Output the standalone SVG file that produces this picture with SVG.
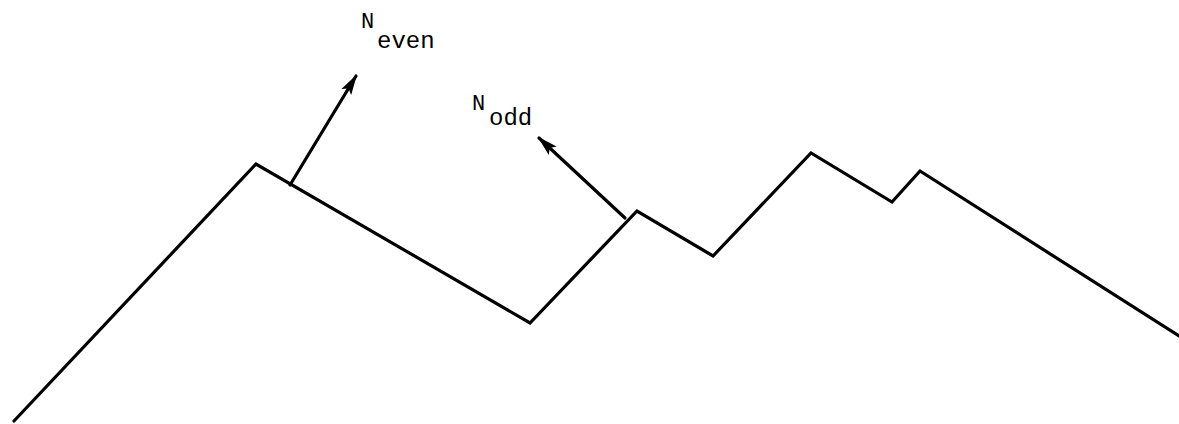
<svg xmlns="http://www.w3.org/2000/svg" width="1179" height="424" viewBox="0 0 1179 424">
<style>
.ln{fill:none;stroke:#000;stroke-width:3.2;stroke-linejoin:miter;stroke-linecap:round}
.t{font-family:"Liberation Mono","Courier New",monospace;fill:#000}
.sm{font-size:22px}
.lg{font-size:24px}
</style>
<defs>
<marker id="ah" viewBox="0 0 20 12" refX="18" refY="6" markerWidth="6.5" markerHeight="3.9" orient="auto" markerUnits="strokeWidth">
<path d="M0,0.5 L20,6 L0,11.5 L4,6 Z" fill="#000"/>
</marker>
</defs>
<rect width="1179" height="424" fill="#fff"/>
<g id="surface">
<polyline class="ln" points="14,421 256,164 530,323 637,211 713,256 811,153 892,202 920,171 1179,336"/>
</g>
<g id="connectors">
<line class="ln" x1="290" y1="185" x2="356" y2="76" marker-end="url(#ah)"/>
<line class="ln" x1="625" y1="218" x2="539" y2="138" marker-end="url(#ah)"/>
</g>
<g id="n-even">
<text class="t sm" x="361" y="28">N</text>
<text class="t lg" x="377" y="48">even</text>
</g>
<g id="n-odd">
<text class="t sm" x="472" y="110">N</text>
<text class="t lg" x="489" y="125">odd</text>
</g>
</svg>
